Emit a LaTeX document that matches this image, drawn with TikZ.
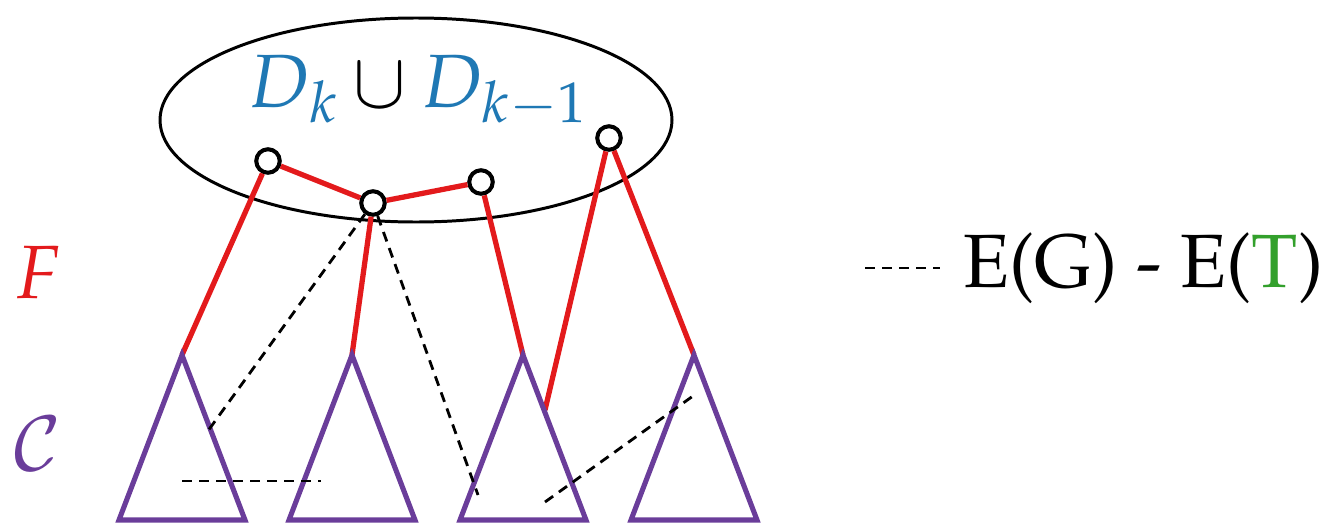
\documentclass[tikz,border=0pt]{standalone}
\usepackage[T1]{fontenc}
\usepackage{mathpazo}
\usepackage{amsmath}
\usepackage{tikz}
\usetikzlibrary{calc}

\definecolor{fred}{HTML}{E31A1C}
\definecolor{cpurple}{HTML}{6A3D9A}
\definecolor{dblue}{HTML}{1F78B4}
\definecolor{tgreen}{HTML}{33A02C}

\begin{document}
\begin{tikzpicture}[x=0.02cm, y=-0.02cm,
    vert/.style={draw, circle, fill=white, line width=2.3pt, minimum size=0.47cm, inner sep=0pt},
    tedge/.style={fred, line width=3pt},
    comp/.style={cpurple, line width=2.9pt, line join=miter},
    nontree/.style={black, line width=1.6pt, dash pattern=on 5.7pt off 4pt},
    lbl/.style={inner sep=0pt, anchor=base west, font=\fontsize{43}{50}\selectfont}]
  \useasboundingbox (0,0) rectangle (1326,524);

  % the set D_k u D_{k-1}
  \draw[line width=1.7pt] (416,120) ellipse [x radius=256, y radius=102];
  \node[lbl] (D) at (248,107) {$\textcolor{dblue}{D_k} \cup \textcolor{dblue}{D_{k-1}}$};

  \node[vert] (a) at (268,161) {};
  \node[vert] (b) at (373,203) {};
  \node[vert] (c) at (481,182) {};
  \node[vert] (d) at (609,138) {};

  % components
  \coordinate (t1) at (182,355);
  \coordinate (t2) at (352,355);
  \coordinate (t3) at (523,355);
  \coordinate (t4) at (694,355);
  \coordinate (s3) at (545,410);

  \draw[tedge] (a) -- (b);
  \draw[tedge] (b) -- (c);
  \draw[tedge] (a) -- (t1);
  \draw[tedge] (b) -- (t2);
  \draw[tedge] (c) -- (t3);
  \draw[tedge] (d) -- (s3);
  \draw[tedge] (d) -- (t4);

  \draw[comp] (t1) -- ++(-63,165) -- ++(126,0) -- cycle;
  \draw[comp] (t2) -- ++(-63,165) -- ++(126,0) -- cycle;
  \draw[comp] (t3) -- ++(-63,165) -- ++(126,0) -- cycle;
  \draw[comp] (t4) -- ++(-63,165) -- ++(126,0) -- cycle;

  % edges outside T
  \coordinate (e1) at (205,435);
  \coordinate (e2) at (478,495);
  \coordinate (h1) at (182,481);
  \coordinate (h2) at (321,481);
  \coordinate (g1) at (545,502);
  \coordinate (g2) at (693,396);
  \draw[nontree] (b) -- (e1);
  \draw[nontree] (b) -- (e2);
  \draw[nontree] (h1) -- (h2);
  \draw[nontree] (g1) -- (g2);

  \node[lbl, fred] (F) at (14,298) {$F$};
  \node[lbl, cpurple] (C) at (13,470) {$\mathcal{C}$};

  % legend
  \coordinate (l1) at (865,268);
  \coordinate (l2) at (940,268);
  \draw[nontree] (l1) -- (l2);
  \node[lbl] (legend) at (963,287) {E(G) - E(\textcolor{tgreen}{T})};
\end{tikzpicture}
\end{document}
